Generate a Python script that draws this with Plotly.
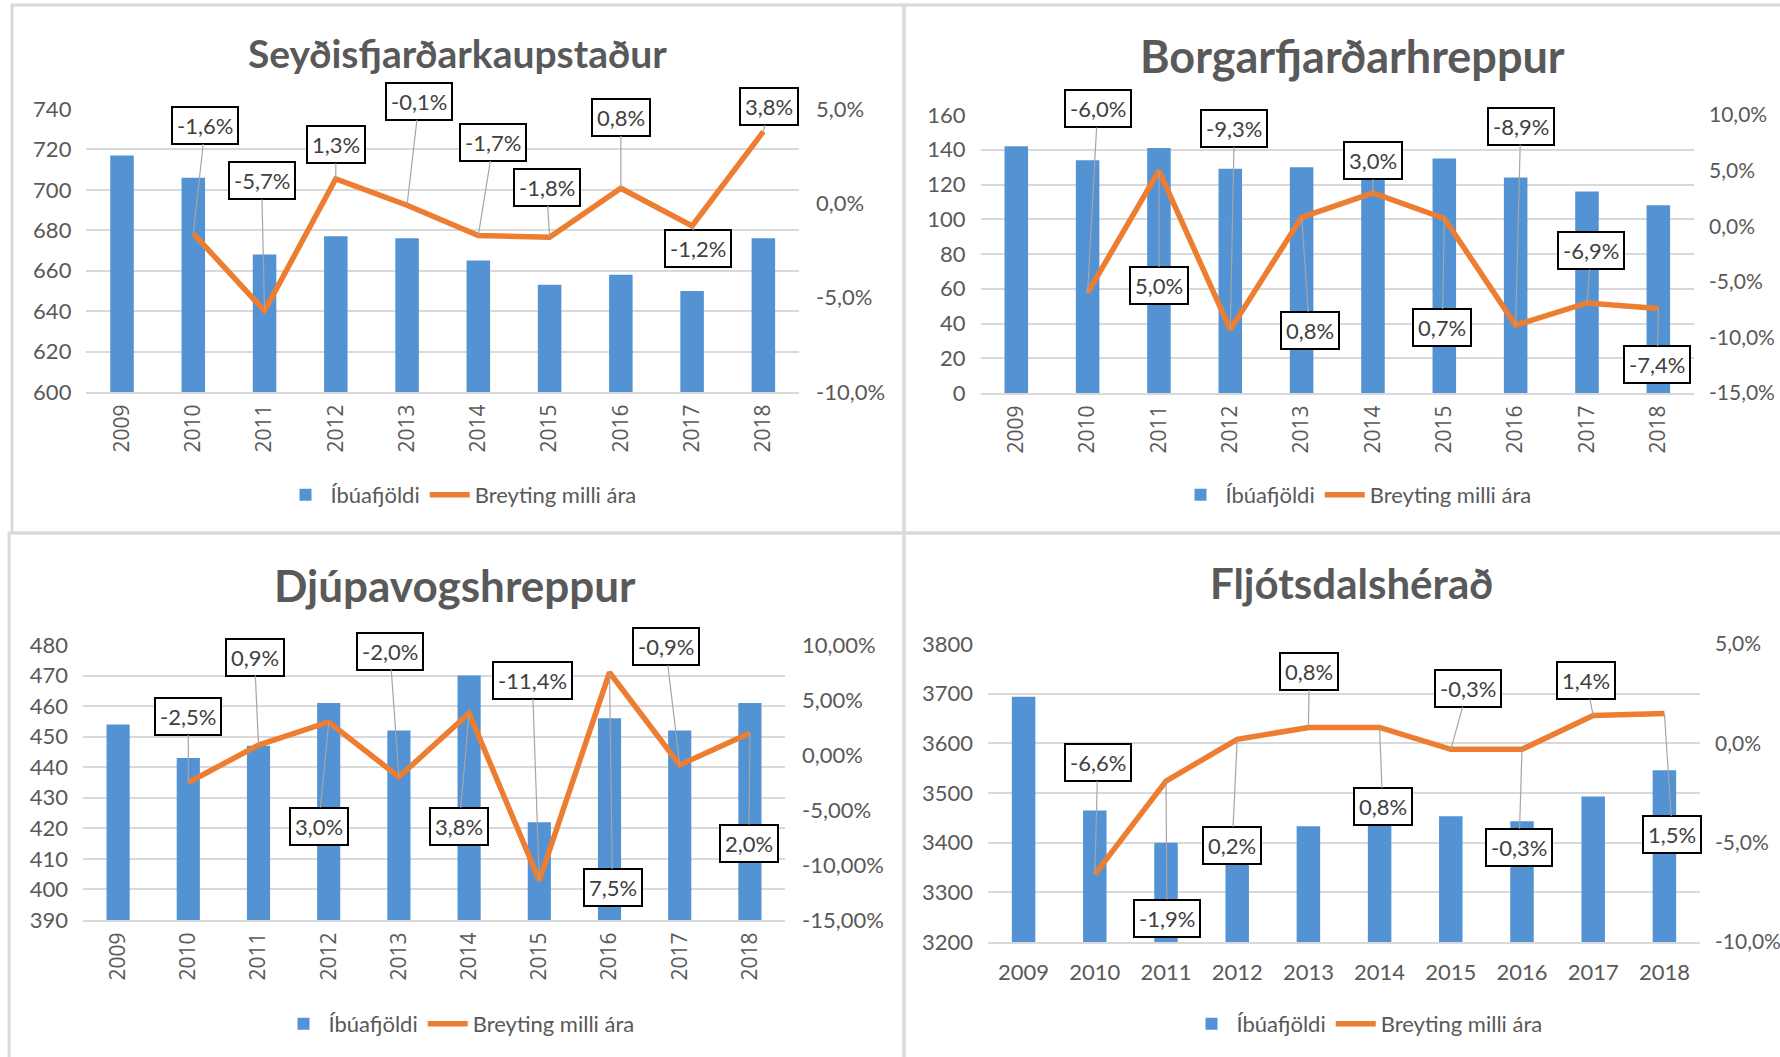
import plotly.graph_objects as go

W, H = 1780, 1057

# ---------------- data ----------------
years = [2009, 2010, 2011, 2012, 2013, 2014, 2015, 2016, 2017, 2018]

seydis_pop = [717, 706, 668, 677, 676, 665, 653, 658, 650, 676]
seydis_chg = [-1.6, -5.7, 1.3, -0.1, -1.7, -1.8, 0.8, -1.2, 3.8]

borg_pop = [142, 134, 141, 129, 130, 134, 135, 124, 116, 108]
borg_chg = [-6.0, 5.0, -9.3, 0.8, 3.0, 0.7, -8.9, -6.9, -7.4]

djup_pop = [454, 443, 447, 461, 452, 470, 422, 456, 452, 461]
djup_chg = [-2.5, 0.9, 3.0, -2.0, 3.8, -11.4, 7.5, -0.9, 2.0]

fljot_pop = [3694, 3465, 3400, 3407, 3433, 3461, 3453, 3443, 3493, 3546]
fljot_chg = [-6.6, -1.9, 0.2, 0.8, 0.8, -0.3, -0.3, 1.4, 1.5]

titles = ["Seyðisfjarðarkaupstaður", "Borgarfjarðarhreppur", "Djúpavogshreppur", "Fljótsdalshérað"]
bar_name = "Íbúafjöldi"
line_name = "Breyting milli ára"

seydis_right_vals = [-10, -5, 0, 5]
seydis_right_text = ["-10,0%", "-5,0%", "0,0%", "5,0%"]
borg_right_vals = [-15, -10, -5, 0, 5, 10]
borg_right_text = ["-15,0%", "-10,0%", "-5,0%", "0,0%", "5,0%", "10,0%"]
djup_right_vals = [-15, -10, -5, 0, 5, 10]
djup_right_text = ["-15,00%", "-10,00%", "-5,00%", "0,00%", "5,00%", "10,00%"]
fljot_right_vals = [-10, -5, 0, 5]
fljot_right_text = ["-10,0%", "-5,0%", "0,0%", "5,0%"]

# ---------------- layout / style (page pixels) ----------------
BLUE = "#5393D3"
ORANGE = "#ED7D31"
GRID = "#D9D9D9"
TXT = "#595959"
FONT = "Lato"

panels = [
    dict(pop=seydis_pop, chg=seydis_chg, title=titles[0], tsize=39, left=(600, 740, 20),
         rvals=seydis_right_vals, rtext=seydis_right_text, rrange=(-10, 5), rsize=22, rstand=16,
         plot=(86.4, 799, 109, 392), title_c=(458, 53), legend_c=(461, 495), rot=True,
         offs=[(12, -108), (-3, -130), (0, -34), (12, -104), (15, -93), (-3, -50), (0, -71), (6, 23), (6, -25)]),
    dict(pop=borg_pop, chg=borg_chg, title=titles[1], tsize=45, left=(0, 160, 20),
         rvals=borg_right_vals, rtext=borg_right_text, rrange=(-15, 10), rsize=21, rstand=14,
         plot=(980.6, 1694, 115, 393), title_c=(1352, 56), legend_c=(1356, 495), rot=True,
         offs=[(10, -184), (0, 115), (4, -201), (8, 113), (0, -32), (-2, 109), (5, -199), (4, -52), (-1, 56)]),
    dict(pop=djup_pop, chg=djup_chg, title=titles[2], tsize=44, left=(390, 480, 10),
         rvals=djup_right_vals, rtext=djup_right_text, rrange=(-15, 10), rsize=22, rstand=16,
         plot=(83, 785, 645, 920), title_c=(455, 585), legend_c=(459, 1024), rot=True,
         offs=[(0, -66), (-4, -88), (-10, 104), (-9, -126), (-10, 113), (-7, -200), (3, 215), (-14, -118), (-1, 110)]),
    dict(pop=fljot_pop, chg=fljot_chg, title=titles[3], tsize=42, left=(3200, 3800, 100),
         rvals=fljot_right_vals, rtext=fljot_right_text, rrange=(-10, 5), rsize=21, rstand=14,
         plot=(988, 1700, 644, 942), title_c=(1351, 583), legend_c=(1367, 1024), rot=False,
         offs=[(3, -112), (1, 137), (-5, 106), (1, -56), (3, 79), (17, -61), (-3, 98), (-7, -35), (8, 121)]),
]

borders = [(12, 5, 904, 533), (904, 5, 1790, 533), (9, 533, 904, 1067), (904, 533, 1790, 1067)]


def px(x):
    return x / W


def py(y):
    return 1 - y / H


def fmt(v):
    return f"{v:.1f}".replace(".", ",") + "%"


fig = go.Figure()
layout = dict(
    width=W, height=H, autosize=False,
    margin=dict(l=0, r=0, t=0, b=0, pad=0, autoexpand=False),
    paper_bgcolor="white", plot_bgcolor="white",
    bargap=0.67, showlegend=True,
    annotations=[], shapes=[],
    font=dict(family=FONT, color=TXT),
)

for i, p in enumerate(panels, start=1):
    xs = "" if i == 1 else str(i)
    xref = "x" + xs
    yl_n, yr_n = 2 * i - 1, 2 * i
    yl = "y" if yl_n == 1 else f"y{yl_n}"
    yr = f"y{yr_n}"
    lg = "legend" if i == 1 else f"legend{i}"
    x0, x1, y0, y1 = p["plot"]

    fig.add_trace(go.Bar(x=years, y=p["pop"], xaxis=xref, yaxis=yl, name=bar_name,
                         marker=dict(color=BLUE, line=dict(width=0)), legend=lg))
    fig.add_trace(go.Scatter(x=years[1:], y=p["chg"], xaxis=xref, yaxis=yr, name=line_name,
                             mode="lines", line=dict(color=ORANGE, width=5.5), legend=lg))

    layout["xaxis" + xs] = dict(
        domain=[px(x0), px(x1)], anchor=yl, type="linear", automargin=False,
        range=[years[0] - 0.5, years[-1] + 0.5], tickvals=years, ticktext=[str(y) for y in years],
        showgrid=False, zeroline=False, showline=True, linecolor=GRID, linewidth=2,
        ticks="", tickangle=-90 if p["rot"] else 0,
        tickfont=dict(family="Open Sans" if p["rot"] else FONT, size=21 if p["rot"] else 22, color=TXT),
        ticklabelstandoff=2 if p["rot"] else 10,
    )
    lo, hi, dt = p["left"]
    layout["yaxis" + ("" if yl_n == 1 else str(yl_n))] = dict(
        domain=[py(y1), py(y0)], anchor=xref, range=[lo, hi], dtick=dt, tick0=lo, automargin=False,
        showgrid=True, gridcolor=GRID, gridwidth=2, zeroline=False, showline=False,
        ticks="", tickfont=dict(family=FONT, size=22, color=TXT), ticklabelstandoff=14,
    )
    layout[f"yaxis{yr_n}"] = dict(
        overlaying=yl, side="right", anchor=xref, range=list(p["rrange"]), automargin=False,
        tickvals=p["rvals"], ticktext=p["rtext"],
        showgrid=False, zeroline=False, showline=False,
        ticks="", tickfont=dict(family=FONT, size=p["rsize"], color=TXT), ticklabelstandoff=p["rstand"],
    )

    # title
    layout["annotations"].append(dict(
        text=f"<b>{p['title']}</b>", xref="paper", yref="paper",
        x=px(p["title_c"][0]), y=py(p["title_c"][1]), xanchor="center", yanchor="middle",
        showarrow=False, font=dict(family=FONT, size=p["tsize"], color=TXT)))

    # data labels with leader lines
    for j, v in enumerate(p["chg"]):
        ax, ay = p["offs"][j]
        layout["annotations"].append(dict(
            x=years[j + 1], y=v, xref=xref, yref=yr, text=fmt(v),
            showarrow=True, arrowhead=0, arrowwidth=1.2, arrowcolor="#A6A6A6",
            ax=ax, ay=ay, standoff=0,
            bgcolor="white", bordercolor="black", borderwidth=2, borderpad=4,
            font=dict(family=FONT, size=22, color="#404040")))

    # legend
    layout[lg] = dict(
        orientation="h", x=px(p["legend_c"][0]), y=py(p["legend_c"][1]),
        xanchor="center", yanchor="middle", bgcolor="rgba(0,0,0,0)",
        font=dict(family=FONT, size=22, color=TXT), itemwidth=40,
        traceorder="normal")

for (bx0, by0, bx1, by1) in borders:
    layout["shapes"].append(dict(
        type="rect", xref="paper", yref="paper",
        x0=px(bx0), x1=px(bx1), y0=py(by1), y1=py(by0),
        line=dict(color=GRID, width=3), fillcolor="rgba(0,0,0,0)", layer="below"))

fig.update_layout(**layout)

fig.write_html("out.html", config={"displayModeBar": False},
               post_script="document.body.style.margin='0';document.body.style.overflow='hidden';")
